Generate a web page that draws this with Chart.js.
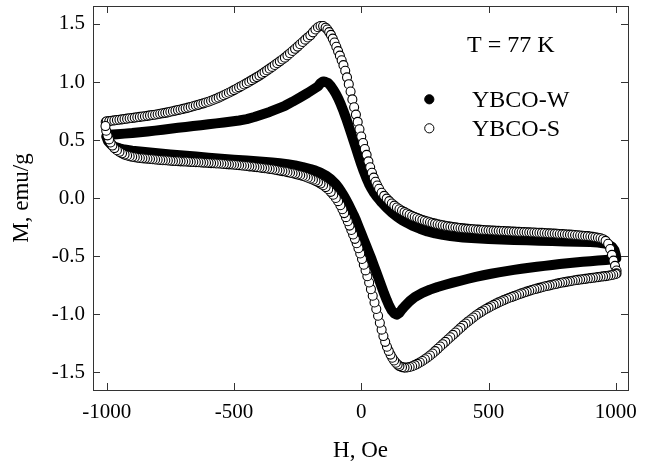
<!DOCTYPE html>
<html>
<head>
<meta charset="utf-8">
<title>M(H) loops, YBCO</title>
<script src="https://cdn.jsdelivr.net/npm/chart.js@4.4.1/dist/chart.umd.min.js"></script>
<style>
  body { margin: 0; background: #fff; }
  #wrap { width: 652px; height: 468px; }
</style>
</head>
<body>
<div id="wrap"><canvas id="chart"></canvas></div>
<script>
// axis ticks
const hTicks = [-1000, -500, 0, 500, 1000];
const mTicks = [-1.5, -1, -0.5, 0, 0.5, 1, 1.5];

// YBCO-W, [H (Oe), M (emu/g)], field going up then coming back down
const wUp = [[-1002,.53],[-990,.545],[-960,.55],[-930,.555],[-900,.56],[-870,.567],[-840,.574],[-810,.581],[-780,.589],[-750,.597],[-720,.605],[-690,.612],[-660,.62],[-630,.627],[-600,.635],[-570,.643],[-540,.651],[-510,.659],[-480,.668],[-450,.68],[-420,.698],[-390,.72],[-360,.742],[-330,.768],[-300,.795],[-270,.83],[-240,.868],[-210,.906],[-190,.934],[-170,.962],[-160,.99],[-150,1.005],[-140,1.0],[-130,.99],[-120,.966],[-110,.935],[-100,.898],[-90,.855],[-80,.805],[-70,.75],[-60,.69],[-50,.625],[-40,.56],[-30,.492],[-20,.424],[-10,.356],[0,.29],[10,.228],[20,.172],[30,.122],[40,.08],[50,.045],[60,.015],[70,-.012],[80,-.038],[90,-.062],[100,-.085],[120,-.125],[140,-.16],[160,-.19],[180,-.215],[200,-.238],[230,-.265],[260,-.288],[290,-.305],[320,-.318],[350,-.328],[400,-.34],[450,-.348],[500,-.354],[550,-.358],[600,-.362],[650,-.365],[700,-.368],[750,-.371],[800,-.374],[850,-.377],[900,-.38],[930,-.384],[950,-.39],[970,-.4],[985,-.42],[995,-.45],[1000,-.49],[1002,-.52]];
const wDown = [[1002,-.52],[990,-.528],[960,-.534],[930,-.539],[900,-.545],[870,-.55],[840,-.556],[810,-.562],[780,-.569],[750,-.577],[720,-.585],[690,-.593],[660,-.601],[630,-.61],[600,-.62],[570,-.63],[540,-.641],[510,-.653],[480,-.666],[450,-.68],[420,-.696],[390,-.713],[360,-.73],[330,-.748],[300,-.767],[270,-.79],[240,-.818],[210,-.855],[190,-.89],[170,-.935],[160,-.96],[150,-.99],[140,-1.005],[130,-.995],[120,-.97],[110,-.93],[100,-.88],[90,-.825],[80,-.765],[70,-.705],[60,-.645],[50,-.585],[40,-.525],[30,-.47],[20,-.415],[10,-.36],[0,-.305],[-10,-.25],[-20,-.195],[-30,-.145],[-40,-.1],[-50,-.055],[-60,-.015],[-70,.025],[-80,.06],[-90,.092],[-100,.12],[-120,.163],[-140,.195],[-160,.218],[-180,.236],[-200,.25],[-230,.267],[-260,.281],[-290,.292],[-320,.3],[-350,.306],[-400,.315],[-450,.323],[-500,.33],[-550,.338],[-600,.347],[-650,.357],[-700,.367],[-750,.376],[-800,.385],[-850,.396],[-900,.408],[-930,.418],[-950,.428],[-970,.443],[-985,.465],[-995,.49],[-1002,.53]];

// YBCO-S, same sweep
const sUp = [[-1004,.655],[-1000,.662],[-990,.663],[-980,.666],[-970,.669],[-960,.672],[-950,.675],[-940,.678],[-930,.681],[-920,.684],[-910,.687],[-900,.69],[-890,.693],[-880,.696],[-870,.699],[-860,.702],[-850,.705],[-840,.708],[-830,.712],[-820,.715],[-810,.718],[-800,.722],[-790,.726],[-780,.73],[-770,.734],[-760,.738],[-750,.743],[-740,.748],[-730,.753],[-720,.758],[-710,.763],[-700,.768],[-690,.773],[-680,.779],[-670,.785],[-660,.791],[-650,.797],[-640,.803],[-630,.81],[-620,.816],[-610,.823],[-600,.83],[-590,.838],[-580,.847],[-570,.856],[-560,.865],[-550,.875],[-540,.886],[-530,.896],[-520,.907],[-510,.918],[-500,.93],[-490,.942],[-480,.954],[-470,.966],[-460,.978],[-450,.99],[-440,1.003],[-430,1.016],[-420,1.029],[-410,1.042],[-400,1.055],[-390,1.07],[-380,1.085],[-370,1.1],[-360,1.115],[-350,1.13],[-340,1.146],[-330,1.162],[-320,1.178],[-310,1.194],[-300,1.21],[-290,1.229],[-280,1.248],[-270,1.267],[-260,1.286],[-250,1.305],[-240,1.325],[-230,1.345],[-220,1.365],[-210,1.384],[-200,1.402],[-190,1.428],[-180,1.452],[-170,1.472],[-160,1.483],[-150,1.482],[-140,1.468],[-133,1.452],[-126,1.43],[-119,1.406],[-112,1.374],[-105,1.34],[-98,1.304],[-91,1.266],[-84,1.227],[-77,1.187],[-70,1.145],[-63,1.097],[-56,1.04],[-49,.981],[-42,.918],[-35,.85],[-28,.782],[-21,.719],[-14,.656],[-7,.593],[0,.53],[7,.474],[14,.422],[21,.372],[28,.316],[35,.265],[42,.218],[49,.176],[56,.14],[63,.108],[70,.08],[80,.045],[90,.018],[100,-.005],[110,-.027],[120,-.048],[130,-.066],[140,-.082],[150,-.097],[160,-.11],[170,-.122],[180,-.133],[190,-.144],[200,-.155],[210,-.164],[220,-.173],[230,-.181],[240,-.189],[250,-.196],[260,-.203],[270,-.209],[280,-.215],[290,-.221],[300,-.226],[310,-.231],[320,-.235],[330,-.239],[340,-.243],[350,-.247],[360,-.25],[370,-.253],[380,-.256],[390,-.259],[400,-.262],[410,-.264],[420,-.266],[430,-.268],[440,-.27],[450,-.272],[460,-.273],[470,-.275],[480,-.276],[490,-.278],[500,-.279],[510,-.28],[520,-.281],[530,-.282],[540,-.283],[550,-.284],[560,-.285],[570,-.286],[580,-.288],[590,-.289],[600,-.29],[610,-.291],[620,-.292],[630,-.293],[640,-.294],[650,-.295],[660,-.296],[670,-.297],[680,-.298],[690,-.299],[700,-.3],[710,-.301],[720,-.302],[730,-.304],[740,-.305],[750,-.306],[760,-.307],[770,-.308],[780,-.31],[790,-.311],[800,-.313],[810,-.314],[820,-.316],[830,-.317],[840,-.319],[850,-.321],[860,-.323],[870,-.325],[880,-.327],[890,-.329],[900,-.332],[910,-.335],[920,-.338],[930,-.342],[940,-.347],[950,-.355],[960,-.37],[970,-.395],[978,-.44],[985,-.49],[991,-.54],[997,-.585],[1003,-.625]];
const sDown = [[1003,-.65],[1000,-.655],[990,-.662],[980,-.666],[970,-.67],[960,-.673],[950,-.676],[940,-.679],[930,-.682],[920,-.685],[910,-.688],[900,-.691],[890,-.694],[880,-.697],[870,-.7],[860,-.703],[850,-.706],[840,-.709],[830,-.713],[820,-.717],[810,-.721],[800,-.725],[790,-.729],[780,-.733],[770,-.738],[760,-.743],[750,-.748],[740,-.753],[730,-.758],[720,-.763],[710,-.769],[700,-.775],[690,-.781],[680,-.787],[670,-.793],[660,-.8],[650,-.807],[640,-.814],[630,-.822],[620,-.83],[610,-.838],[600,-.846],[590,-.854],[580,-.862],[570,-.871],[560,-.88],[550,-.89],[540,-.9],[530,-.91],[520,-.921],[510,-.933],[500,-.945],[490,-.957],[480,-.97],[470,-.984],[460,-.998],[450,-1.013],[440,-1.03],[430,-1.047],[420,-1.064],[410,-1.082],[400,-1.1],[390,-1.12],[380,-1.14],[370,-1.16],[360,-1.18],[350,-1.2],[340,-1.22],[330,-1.24],[320,-1.26],[310,-1.28],[300,-1.3],[290,-1.32],[280,-1.34],[270,-1.358],[260,-1.375],[250,-1.39],[240,-1.405],[230,-1.418],[220,-1.43],[210,-1.441],[200,-1.45],[190,-1.457],[180,-1.461],[170,-1.462],[160,-1.458],[150,-1.449],[143,-1.436],[136,-1.42],[129,-1.401],[122,-1.377],[115,-1.35],[108,-1.318],[101,-1.282],[94,-1.24],[87,-1.19],[80,-1.135],[73,-1.075],[66,-1.015],[59,-.957],[52,-.901],[45,-.843],[38,-.786],[31,-.728],[24,-.674],[17,-.624],[10,-.575],[3,-.526],[-4,-.478],[-11,-.433],[-18,-.39],[-25,-.352],[-32,-.314],[-39,-.276],[-46,-.238],[-53,-.2],[-60,-.165],[-67,-.13],[-74,-.097],[-82,-.062],[-91,-.027],[-100,0],[-110,.028],[-120,.053],[-130,.075],[-140,.094],[-150,.11],[-160,.124],[-170,.137],[-180,.148],[-190,.158],[-200,.167],[-210,.175],[-220,.183],[-230,.19],[-240,.196],[-250,.202],[-260,.208],[-270,.213],[-280,.218],[-290,.223],[-300,.228],[-310,.232],[-320,.236],[-330,.24],[-340,.244],[-350,.248],[-360,.251],[-370,.254],[-380,.257],[-390,.26],[-400,.263],[-410,.266],[-420,.268],[-430,.271],[-440,.273],[-450,.276],[-460,.278],[-470,.28],[-480,.283],[-490,.285],[-500,.287],[-510,.289],[-520,.29],[-530,.292],[-540,.294],[-550,.295],[-560,.297],[-570,.298],[-580,.3],[-590,.301],[-600,.303],[-610,.304],[-620,.305],[-630,.307],[-640,.308],[-650,.309],[-660,.31],[-670,.311],[-680,.313],[-690,.314],[-700,.315],[-710,.316],[-720,.318],[-730,.319],[-740,.32],[-750,.322],[-760,.323],[-770,.325],[-780,.326],[-790,.328],[-800,.33],[-810,.332],[-820,.334],[-830,.336],[-840,.338],[-850,.34],[-860,.342],[-870,.345],[-880,.348],[-890,.351],[-900,.355],[-910,.36],[-920,.366],[-930,.374],[-940,.385],[-950,.398],[-960,.412],[-970,.43],[-978,.452],[-985,.478],[-991,.505],[-997,.54],[-1002,.58],[-1005,.62]];

const toXY = pts => pts.map(p => ({ x: p[0], y: p[1] }));
const serif = "'Liberation Serif', 'Times New Roman', serif";

// closed frame with inward ticks on all four sides
const frameTicks = {
  id: 'frameTicks',
  afterDatasetsDraw(chart) {
    const { ctx, chartArea: a, scales: { x, y } } = chart;
    const len = 7;
    ctx.save();
    ctx.strokeStyle = '#333';
    ctx.lineWidth = 1;
    ctx.strokeRect(a.left + 0.5, a.top + 0.5, a.right - a.left, a.bottom - a.top);
    ctx.beginPath();
    x.ticks.forEach(t => {
      const px = Math.round(x.getPixelForValue(t.value)) + 0.5;
      ctx.moveTo(px, a.bottom); ctx.lineTo(px, a.bottom - len);
      ctx.moveTo(px, a.top); ctx.lineTo(px, a.top + len);
    });
    y.ticks.forEach(t => {
      const py = Math.round(y.getPixelForValue(t.value)) + 0.5;
      ctx.moveTo(a.left, py); ctx.lineTo(a.left + len, py);
      ctx.moveTo(a.right, py); ctx.lineTo(a.right - len, py);
    });
    ctx.stroke();
    ctx.restore();
  }
};

// temperature note and marker legend inside the plot
const legendBox = {
  id: 'legendBox',
  afterDraw(chart) {
    const { ctx, chartArea: a } = chart;
    const ds = chart.data.datasets;
    ctx.save();
    ctx.font = '24px ' + serif;
    ctx.fillStyle = '#000';
    ctx.textBaseline = 'alphabetic';
    ctx.fillText('T = 77 K', a.left + 374, a.top + 46);
    [ds[1], ds[0]].forEach((d, i) => {
      const cy = a.top + 93.3 + i * 29;
      ctx.beginPath();
      ctx.arc(a.left + 336.3, cy, 4.6, 0, Math.PI * 2);
      ctx.fillStyle = d.showLine ? '#000' : '#fff';
      ctx.fill();
      ctx.lineWidth = 1;
      ctx.strokeStyle = '#000';
      ctx.stroke();
      ctx.fillStyle = '#000';
      ctx.fillText(d.label, a.left + 379, cy + 8);
    });
    ctx.restore();
  }
};

new Chart(document.getElementById('chart'), {
  type: 'scatter',
  data: {
    datasets: [
      {
        label: 'YBCO-S',
        data: toXY(sUp.concat(sDown)),
        showLine: false,
        pointRadius: 4.5,
        pointBorderWidth: 1.1,
        pointBackgroundColor: '#fff',
        pointBorderColor: '#000'
      },
      {
        label: 'YBCO-W',
        data: toXY(wUp.concat(wDown)),
        showLine: true,
        borderColor: '#000',
        borderWidth: 10,
        borderJoinStyle: 'round',
        borderCapStyle: 'round',
        pointRadius: 0,
        fill: false
      }
    ]
  },
  options: {
    responsive: true,
    maintainAspectRatio: false,
    animation: false,
    events: [],
    layout: { padding: { top: 6, right: 24, left: 0, bottom: 0 } },
    plugins: { legend: { display: false }, tooltip: { enabled: false } },
    scales: {
      x: {
        type: 'linear',
        min: -1054,
        max: 1048,
        grid: { display: false, drawTicks: false },
        border: { display: false },
        afterBuildTicks: s => { s.ticks = hTicks.map(v => ({ value: v })); },
        afterFit: s => { s.height = 78; s.paddingLeft = 0; s.paddingRight = 0; },
        ticks: {
          callback: v => String(v),
          font: { family: serif, size: 21 },
          color: '#000',
          padding: 10,
          autoSkip: false,
          maxRotation: 0
        },
        title: {
          display: true,
          text: 'H, Oe',
          font: { family: serif, size: 23 },
          color: '#000',
          padding: { top: 0, bottom: 3 }
        }
      },
      y: {
        type: 'linear',
        min: -1.655,
        max: 1.655,
        grid: { display: false, drawTicks: false },
        border: { display: false },
        afterBuildTicks: s => { s.ticks = mTicks.map(v => ({ value: v })); },
        afterFit: s => { s.width = 93; s.paddingTop = 0; s.paddingBottom = 0; },
        ticks: {
          callback: v => v.toFixed(1),
          font: { family: serif, size: 21 },
          color: '#000',
          padding: 8,
          autoSkip: false
        },
        title: {
          display: true,
          text: 'M, emu/g',
          font: { family: serif, size: 23 },
          color: '#000',
          padding: { top: 8, bottom: 0 }
        }
      }
    }
  },
  plugins: [frameTicks, legendBox]
});
</script>
</body>
</html>
